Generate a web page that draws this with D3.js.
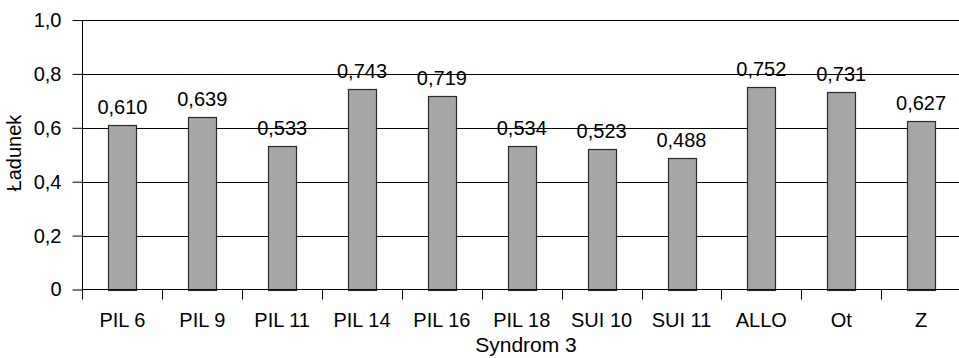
<!DOCTYPE html>
<html>
<head>
<meta charset="utf-8">
<script src="https://cdn.jsdelivr.net/npm/d3@7/dist/d3.min.js"></script>
<style>
  html, body { margin: 0; padding: 0; background: #fff; }
  svg { display: block; font-family: "Liberation Sans", Arial, sans-serif; }
</style>
</head>
<body>
<svg id="chart" width="959" height="358"></svg>
<script>
// Factor loadings for Syndrom 3
const categories = ["PIL 6", "PIL 9", "PIL 11", "PIL 14", "PIL 16", "PIL 18", "SUI 10", "SUI 11", "ALLO", "Ot", "Z"];
const loadings = [0.610, 0.639, 0.533, 0.743, 0.719, 0.534, 0.523, 0.488, 0.752, 0.731, 0.627];
const yTicks = [0, 0.2, 0.4, 0.6, 0.8, 1.0];
const xTitle = "Syndrom 3";
const yTitle = "Ładunek";

const svg = d3.select("#chart");
const plotLeft = 82.5, plotRight = 961, plotTop = 20, plotBottom = 289.5;
const fontSize = 20;

const x = d3.scaleBand().domain(categories).range([plotLeft, plotRight]).paddingInner(0.65).paddingOuter(0.325);
const y = d3.scaleLinear().domain([0, 1]).range([plotBottom, plotTop]);
const fmt = v => (v === 0 ? "0" : d3.format(".1f")(v).replace(".", ","));
const fmt3 = v => d3.format(".3f")(v).replace(".", ",");

// horizontal gridlines
svg.append("g")
  .selectAll("line")
  .data(yTicks.filter(t => t > 0))
  .join("line")
  .attr("x1", plotLeft).attr("x2", 959)
  .attr("y1", d => Math.round(y(d)) + 0.5).attr("y2", d => Math.round(y(d)) + 0.5)
  .attr("stroke", "#000").attr("stroke-width", 1);

// bars
svg.append("g")
  .selectAll("rect")
  .data(categories)
  .join("rect")
  .attr("x", d => Math.round(x(d)) + 0.5)
  .attr("y", (d, i) => Math.round(y(loadings[i])) + 0.5)
  .attr("width", Math.round(x.bandwidth()))
  .attr("height", (d, i) => Math.round(plotBottom) - Math.round(y(loadings[i])))
  .attr("fill", "#a6a6a6")
  .attr("stroke", "#2b2b2b")
  .attr("stroke-width", 1.2);

// value labels
svg.append("g")
  .selectAll("text")
  .data(categories)
  .join("text")
  .attr("x", d => x(d) + x.bandwidth() / 2)
  .attr("y", (d, i) => y(loadings[i]) - 11)
  .attr("text-anchor", "middle")
  .attr("font-size", fontSize)
  .attr("fill", "#000")
  .text((d, i) => fmt3(loadings[i]));

// y axis
const yAxis = svg.append("g")
  .attr("transform", `translate(${plotLeft},0)`)
  .call(d3.axisLeft(y).tickValues(yTicks).tickFormat(fmt).tickSize(10).tickPadding(11));
yAxis.select(".domain").remove();
yAxis.selectAll(".tick line").attr("stroke", "#000");
yAxis.selectAll(".tick text").attr("font-size", fontSize).attr("font-family", "Liberation Sans, Arial, sans-serif").attr("fill", "#000");
svg.append("line")
  .attr("x1", plotLeft).attr("x2", plotLeft)
  .attr("y1", plotTop).attr("y2", plotBottom + 10)
  .attr("stroke", "#000");

// x axis with boundary ticks between categories
svg.append("line")
  .attr("x1", plotLeft).attr("x2", 959)
  .attr("y1", plotBottom).attr("y2", plotBottom)
  .attr("stroke", "#000");
const step = x.step();
svg.append("g")
  .selectAll("line")
  .data(categories.slice(1))
  .join("line")
  .attr("x1", (d, i) => Math.round(plotLeft + step * (i + 1)) + 0.5)
  .attr("x2", (d, i) => Math.round(plotLeft + step * (i + 1)) + 0.5)
  .attr("y1", plotBottom).attr("y2", plotBottom + 10)
  .attr("stroke", "#000");
svg.append("g")
  .selectAll("text")
  .data(categories)
  .join("text")
  .attr("x", d => x(d) + x.bandwidth() / 2)
  .attr("y", 327)
  .attr("text-anchor", "middle")
  .attr("font-size", fontSize)
  .attr("fill", "#000")
  .text(d => d);

// axis titles
svg.append("text")
  .attr("x", 526)
  .attr("y", 352)
  .attr("text-anchor", "middle")
  .attr("font-size", 21)
  .text(xTitle);
svg.append("text")
  .attr("transform", `translate(21,153) rotate(-90)`)
  .attr("text-anchor", "middle")
  .attr("font-size", 20)
  .text(yTitle);
</script>
</body>
</html>
